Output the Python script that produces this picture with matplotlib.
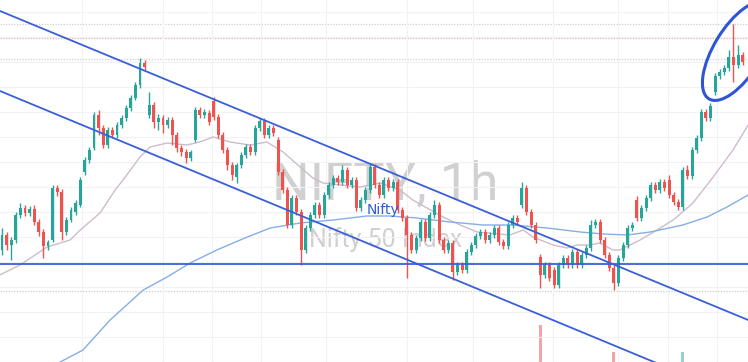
import matplotlib.pyplot as plt
import numpy as np
from matplotlib.patches import Ellipse
from matplotlib.transforms import Affine2D

# hourly candles, price in chart units
opens = [112, 127, 117, 122, 147, 154, 149, 153, 140, 130,
         116, 122, 174, 170, 130, 142, 150, 157, 190, 202,
         214, 247, 234, 217, 232, 227, 237, 244, 254, 264,
         277, 299, 247, 257, 240, 244, 237, 242, 227, 214,
         210, 204, 222, 252, 247, 249, 261, 245, 227, 212,
         197, 185, 197, 207, 215, 210, 234, 241, 227, 234,
         222, 190, 172, 137, 164, 150, 112, 134, 147, 157,
         147, 167, 177, 184, 180, 192, 177, 182, 154, 162,
         172, 195, 177, 167, 182, 174, 180, 152, 144, 127,
         112, 124, 140, 124, 147, 157, 122, 112, 119, 90,
         97, 92, 110, 117, 126, 130, 122, 127, 134, 120,
         116, 137, 144, 157, 174, 150, 137, 105, 87, 97,
         92, 77, 97, 104, 97, 110, 97, 107, 114, 137,
         140, 122, 107, 94, 79, 104, 117, 134, 162, 144,
         154, 164, 177, 172, 180, 182, 167, 160, 155, 192,
         186, 212, 224, 250, 244, 270, 286, 290, 294, 305,
         297, 307]
closes = [127, 117, 122, 147, 154, 149, 153, 140, 130, 116,
          120, 174, 170, 130, 142, 152, 159, 182, 202, 212,
          247, 234, 217, 232, 227, 237, 244, 254, 264, 277,
          299, 295, 257, 240, 244, 237, 242, 227, 214, 210,
          204, 210, 252, 247, 250, 240, 245, 227, 212, 197,
          187, 197, 207, 215, 210, 234, 241, 227, 234, 229,
          190, 172, 137, 164, 150, 112, 134, 147, 157, 147,
          167, 177, 184, 180, 192, 177, 182, 154, 162, 172,
          195, 177, 167, 182, 174, 180, 152, 144, 127, 112,
          124, 140, 124, 147, 157, 122, 112, 119, 90, 97,
          92, 110, 117, 126, 130, 122, 127, 134, 120, 116,
          137, 144, 140, 174, 150, 137, 122, 87, 97, 84,
          77, 97, 104, 97, 110, 97, 107, 114, 137, 140,
          122, 107, 94, 79, 104, 117, 134, 137, 144, 154,
          164, 177, 172, 180, 174, 167, 160, 155, 192, 186,
          212, 224, 250, 244, 256, 286, 290, 294, 305, 297,
          307, 300]
highs = [134, 130, 125, 150, 159, 157, 156, 157, 143, 133,
         122, 177, 177, 173, 145, 155, 162, 185, 205, 215,
         250, 252, 237, 235, 235, 240, 247, 257, 267, 280,
         304, 302, 270, 260, 248, 247, 245, 245, 230, 217,
         213, 212, 255, 255, 253, 252, 265, 248, 230, 215,
         200, 199, 210, 218, 218, 237, 244, 244, 237, 237,
         225, 193, 175, 167, 167, 153, 137, 150, 160, 160,
         170, 180, 187, 187, 197, 195, 185, 185, 165, 175,
         199, 198, 180, 185, 185, 183, 183, 155, 147, 130,
         127, 143, 143, 150, 162, 160, 125, 122, 122, 100,
         100, 113, 120, 129, 133, 133, 130, 137, 137, 123,
         140, 147, 147, 180, 177, 153, 140, 108, 100, 100,
         95, 100, 107, 107, 113, 113, 110, 117, 142, 143,
         143, 125, 110, 97, 107, 120, 137, 140, 166, 157,
         167, 180, 180, 183, 183, 187, 170, 163, 195, 197,
         215, 227, 253, 253, 259, 289, 293, 297, 312, 338,
         317, 310]
lows = [107, 112, 102, 119, 144, 146, 146, 137, 126, 104,
        112, 120, 166, 122, 127, 140, 147, 155, 187, 199,
        212, 227, 214, 214, 224, 224, 234, 241, 251, 262,
        274, 292, 244, 234, 232, 229, 234, 217, 210, 206,
        199, 201, 220, 244, 244, 237, 242, 224, 209, 192,
        182, 179, 194, 204, 207, 207, 231, 224, 224, 226,
        187, 169, 134, 134, 147, 97, 109, 131, 144, 144,
        144, 164, 174, 177, 177, 174, 174, 151, 151, 159,
        169, 174, 164, 164, 171, 171, 149, 141, 84, 109,
        109, 121, 121, 121, 144, 119, 109, 109, 82, 87,
        89, 89, 107, 114, 123, 119, 119, 124, 117, 113,
        113, 134, 137, 154, 147, 134, 119, 74, 84, 81,
        74, 74, 94, 94, 94, 94, 94, 104, 111, 134,
        119, 104, 91, 72, 76, 101, 114, 131, 141, 141,
        151, 161, 169, 169, 171, 164, 157, 152, 152, 183,
        183, 209, 221, 241, 241, 267, 283, 287, 291, 280,
        294, 297]

# moving averages (candle index, value)
ma_fast_idx = [-0.5, 3.9, 9.8, 14.8, 17.0, 21.3, 24.6, 26.3, 30.0, 32.2, 35.9, 40.2,
               43.0, 45.9, 49.6, 53.9, 57.6, 61.1, 64.8, 67.6, 69.8, 73.5, 77.8,
               82.2, 86.5, 89.3, 92.4, 95.9, 99.6, 103.3, 110.4, 113.3, 115.4,
               119.8, 122.8, 125.0, 127.8, 130.0, 132.8, 134.3, 138.7, 142.4,
               145.9, 150.2, 154.6, 158.9, 162.2]
ma_fast_val = [87, 97, 115, 122, 132, 149, 172, 182, 205, 215, 219, 217,
               220, 225, 220, 217, 220, 210, 195, 184, 179, 177, 175,
               179, 172, 162, 154, 145, 137, 130, 127, 132, 125,
               117, 114, 117, 117, 119, 112, 112, 122, 132,
               142, 159, 185, 212, 237]
ma_slow_idx = [11.0, 17.6, 23.5, 30.7, 35.9, 40.9, 46.7, 52.8, 58.3, 64.8, 72.0,
               79.3, 84.3, 90.2, 97.4, 104.6, 111.1, 118.5, 125.7, 130.7, 135.9,
               140.9, 148.0, 153.3, 157.6, 162.2]
ma_slow_val = [-4, 12, 42, 72, 85, 99, 112, 124, 134, 139, 142,
               146, 146, 144, 140, 137, 137, 134, 130, 128, 127,
               130, 137, 145, 155, 167]

vol_idx = [117, 133, 148]
vol_val = [37, 10, 10]

# drawings
channel_top = ([-0.43, 162.2], [351, 42])
channel_bottom = ([-0.43, 162.2], [271, -39])
support = 98
dotted_gray = [338, 303, 71]
dotted_red = [324]
day_lines = [17.4, 35.0, 45.7, 56.3, 70.4, 88.0, 102.4, 119.8, 133.9, 144.8, 155.4]

o = np.array(opens); c = np.array(closes)
h = np.array(highs); l = np.array(lows)
x = np.arange(len(o))
UP, DOWN = '#26a69a', '#ef5350'
col = np.where(c >= o, UP, DOWN)

fig = plt.figure(figsize=(7.48, 3.62), dpi=100)
ax = fig.add_axes([0, 0, 1, 1])
ax.set_xlim(-0.435, 162.17)
ax.set_ylim(0, 362)

ax.set_xticks(day_lines)
ax.set_yticks(np.arange(0, 362, 25))
ax.grid(color='#f0f2f6', lw=0.8, zorder=0)
ax.tick_params(length=0, labelbottom=False, labelleft=False)
for s in ax.spines.values():
    s.set_visible(False)

ax.text(83.3, 177, 'NIFTY, 1h', fontsize=38, family='Roboto', color='#d0d0d0',
        ha='center', va='center', zorder=1)
ax.text(83.3, 122, 'Nifty 50 Index', fontsize=18, family='Roboto', color='#d0d0d0',
        ha='center', va='center', zorder=1)

for v in dotted_gray:
    ax.axhline(v, color='#cfcfcf', lw=0.9, ls=(0, (1, 1.2)), zorder=1)
for v in dotted_red:
    ax.axhline(v, color='#f2a9a9', lw=0.9, ls=(0, (1, 1.2)), zorder=1)

vc = ['#f5a3a3' if c[i] < o[i] else '#92d3cb' for i in vol_idx]
ax.bar(vol_idx, vol_val, width=0.65, color=vc, zorder=1)

ax.plot(ma_fast_idx, ma_fast_val, color='#cdbccd', lw=1.0, zorder=2)
ax.plot(ma_slow_idx, ma_slow_val, color='#86aee6', lw=1.0, zorder=2)

ax.vlines(x, l, h, colors=col, lw=1.0, zorder=3)
body = np.maximum(np.abs(c - o), 0.8)
ax.bar(x, body, bottom=np.minimum(o, c), width=0.65, color=col, zorder=3)

line_col = '#3a5fd8'
ax.plot(*channel_top, color=line_col, lw=1.3, zorder=4)
ax.plot(*channel_bottom, color=line_col, lw=1.3, zorder=4)
ax.axhline(support, color=line_col, lw=1.3, zorder=4)

ax.text(79.3, 152, 'Nifty', fontsize=10, color='#2f5fd0', ha='left', va='center', zorder=5)

tr = Affine2D().scale(1 / 4.6, 1) + ax.transData
ax.add_patch(Ellipse((160 * 4.6, 311), 112, 48, angle=58.7, fill=False,
                     ec='#2f55d4', lw=2.2, transform=tr, zorder=5))

fig.savefig('out.png', dpi=100)
